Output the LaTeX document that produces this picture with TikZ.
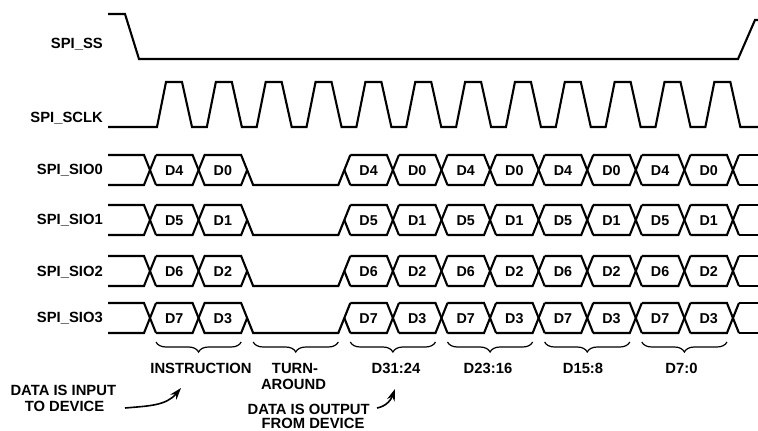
\documentclass[tikz,border=0pt]{standalone}
\usepackage{fontspec}
\setmainfont{Liberation Sans}
\usetikzlibrary{arrows.meta,decorations.pathreplacing}
\begin{document}
\begin{tikzpicture}[x=1pt,y=-1pt,
  wave/.style={line width=2.1pt},
  lbl/.style={anchor=base east, inner sep=0pt, font=\fontsize{14.8}{16}\selectfont\bfseries},
  cell/.style={anchor=base, inner sep=0pt, font=\fontsize{14.3}{16}\selectfont\bfseries},
  ann/.style={anchor=base, inner sep=0pt, font=\fontsize{14.8}{16}\selectfont\bfseries},
  bracestyle/.style={line width=1.2pt, decorate, decoration={brace,mirror,amplitude=10pt}},
  arr/.style={line width=1.6pt, -{Stealth[length=12pt,width=8pt]}}]
\useasboundingbox (0,0) rectangle (758,431);

% signal names
\node[lbl] (ss)   at (103,48.8)  {SPI\_SS};
\node[lbl] (sclk) at (103,122.3) {SPI\_SCLK};
\node[lbl] (sio0) at (103,174.3) {SPI\_SIO0};
\node[lbl] (sio1) at (103,224.3) {SPI\_SIO1};
\node[lbl] (sio2) at (103,276.5) {SPI\_SIO2};
\node[lbl] (sio3) at (103,322.0) {SPI\_SIO3};

% SPI_SS
\draw[wave] (108,14) -- (125,14) -- (139,59) -- (738,59) -- (755,20) -- (758,20);

% SPI_SCLK
\draw[wave] (108,127)
  \foreach \k in {0,...,11}{
    -- ({157+49.85*\k},127) -- ({166+49.85*\k},82) -- ({182+49.85*\k},82) -- ({192+49.85*\k},127)
  } -- (758,127);

% data rows
\def\h{6}
\foreach \yc/\na/\nb/\rn in {170/D4/D0/0, 220/D5/D1/1, 271/D6/D2/2, 318/D7/D3/3}{
  \pgfmathsetmacro\t{\yc-15}
  \pgfmathsetmacro\b{\yc+15}
  % lead-in and first crossing
  \draw[wave] (108,\t) -- ({150-\h},\t) -- ({150+\h},\b);
  \draw[wave] (108,\b) -- ({150-\h},\b) -- ({150+\h},\t);
  % instruction cells (0,1) with crossing at x1
  \pgfmathsetmacro\xa{150+48.58}
  \pgfmathsetmacro\xb{150+2*48.58}
  \pgfmathsetmacro\xd{150+4*48.58}
  \draw[wave] ({150+\h},\t) -- ({\xa-\h},\t) -- ({\xa+\h},\b) -- ({\xb-\h},\b) -- (\xb,\yc);
  \draw[wave] ({150+\h},\b) -- ({\xa-\h},\b) -- ({\xa+\h},\t) -- ({\xb-\h},\t) -- ({\xb+\h},\b)
     -- ({\xd-\h},\b) -- ({\xd+\h},\t);
  \draw[wave] (\xd,\yc) -- ({\xd+\h},\b);
  % output cells 4..11
  \foreach \k in {4,...,11}{
    \pgfmathsetmacro\xl{150+48.58*\k}
    \pgfmathsetmacro\xr{150+48.58*(\k+1)}
    \draw[wave] ({\xl+\h},\t) -- ({\xr-\h},\t) -- ({\xr+\h},\b);
    \draw[wave] ({\xl+\h},\b) -- ({\xr-\h},\b) -- ({\xr+\h},\t);
  }
  \pgfmathsetmacro\xe{150+12*48.58}
  \draw[wave] ({\xe+\h},\t) -- (758,\t);
  \draw[wave] ({\xe+\h},\b) -- (758,\b);
  % cell labels
  \foreach \k in {0,4,6,8,10}{
    \node[cell] (c\rn-\k) at ({150+48.58*(\k+0.5)},{\yc+5.1}) {\na};
  }
  \foreach \k in {1,5,7,9,11}{
    \node[cell] (c\rn-\k) at ({150+48.58*(\k+0.5)},{\yc+5.1}) {\nb};
  }
}

% braces
\foreach \k in {1,3,5,7,9,11}{
  \draw[bracestyle] ({150+48.58*(\k-1)+6},342) -- ({150+48.58*(\k+1)-6},342);
}

% brace labels
\node[ann] (instr) at (201,373) {INSTRUCTION};
\node[ann] (turn1) at (295,373) {TURN-};
\node[ann] (turn2) at (293.5,389) {AROUND};
\node[ann] (d3124) at (396,373) {D31:24};
\node[ann] (d2316) at (488,373) {D23:16};
\node[ann] (d158)  at (583,373) {D15:8};
\node[ann] (d70)   at (681.5,373) {D7:0};

% annotations
\node[ann] (in1)  at (63.3,395) {DATA IS INPUT};
\node[ann] (in2)  at (64.5,411) {TO DEVICE};
\node[ann] (out1) at (308.7,414) {DATA IS OUTPUT};
\node[ann] (out2) at (313,428) {FROM DEVICE};

\coordinate (a1s) at (125,408);
\coordinate (a1e) at (181,388);
\coordinate (a2s) at (377,408);
\coordinate (a2e) at (395,389);
\draw[arr] (a1s) to[out=5,in=-130] (a1e);
\draw[arr] (a2s) to[out=10,in=-110] (a2e);
\end{tikzpicture}
\end{document}
